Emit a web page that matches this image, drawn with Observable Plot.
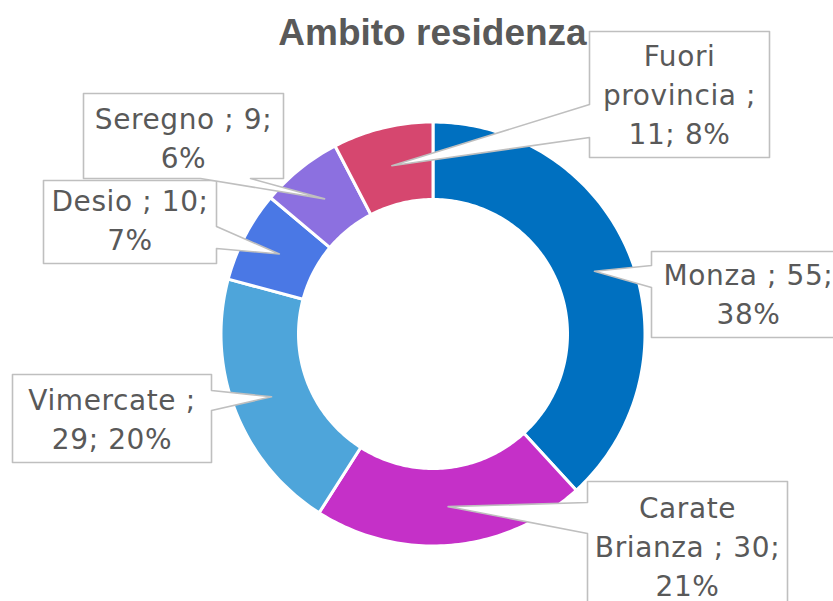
<!DOCTYPE html>
<html>
<head>
<meta charset="utf-8">
<script src="https://cdn.jsdelivr.net/npm/d3@7"></script>
<script src="https://cdn.jsdelivr.net/npm/@observablehq/plot@0.6"></script>
<style>
  html, body { margin: 0; padding: 0; background: #fff; }
  #chart { width: 833px; height: 601px; overflow: hidden; }
</style>
</head>
<body>
<div id="chart"></div>
<script>
// ---- data ----
const titleText = "Ambito residenza";
const categories = ["Monza", "Carate Brianza", "Vimercate", "Desio", "Seregno", "Fuori provincia"];
const values = [55, 30, 29, 10, 9, 11];
const colors = ["#0070C0", "#C530C8", "#4EA5DA", "#4A78E5", "#8C70E0", "#D6476F"];
// token index after which the label text wraps (layout of each label)
const labelBreaks = [[2], [0, 3], [1], [2], [2], [0, 2]];

// ---- layout ----
const W = 833, H = 601;
const cx = 432.5, cy = 333.5, rOuter = 212, rInner = 134.5;
const rTip = (rOuter + rInner) / 2;
// label boxes: [x0, y0, x1, y1], pointer edge, pointer base (two coords along that edge), text centre y
const boxes = [
  {b: [651, 251, 845, 337], edge: "left",   base: [265, 287], ty: 304},
  {b: [587, 481, 787, 640], edge: "left",   base: [502, 533], ty: 556},
  {b: [12, 374, 211, 462],  edge: "right",  base: [390, 410], ty: 429},
  {b: [43, 180, 216, 263],  edge: "right",  base: [226, 248], ty: 230},
  {b: [83, 93, 283, 178],   edge: "bottom", base: [200, 250], ty: 148},
  {b: [589, 31, 769, 157],  edge: "left",   base: [104, 137], ty: 104}
];
const fontSize = 28, lineH = 39;

// ---- derived ----
const total = d3.sum(values);
let acc = 0;
const slices = categories.map((name, i) => {
  const a0 = acc / total * 2 * Math.PI;
  acc += values[i];
  const a1 = acc / total * 2 * Math.PI;
  return {name, value: values[i], a0, a1, mid: (a0 + a1) / 2, pct: Math.round(values[i] / total * 100)};
});
const pt = (r, a) => [cx + r * Math.sin(a), cy - r * Math.cos(a)];

const slicePts = [];
slices.forEach(s => {
  const n = Math.max(4, Math.ceil((s.a1 - s.a0) / (Math.PI / 180)));
  for (let k = 0; k <= n; k++) {
    const [x, y] = pt(rOuter, s.a0 + (s.a1 - s.a0) * k / n);
    slicePts.push({name: s.name, x, y});
  }
  for (let k = n; k >= 0; k--) {
    const [x, y] = pt(rInner, s.a0 + (s.a1 - s.a0) * k / n);
    slicePts.push({name: s.name, x, y});
  }
});

const calloutPts = [];
const labels = [];
slices.forEach((s, i) => {
  const {b: [x0, y0, x1, y1], edge, base, ty: tyc} = boxes[i];
  const [tx, ty] = pt(rTip, s.mid);
  let poly;
  if (edge === "left") poly = [[x0, y0], [x1, y0], [x1, y1], [x0, y1], [x0, base[1]], [tx, ty], [x0, base[0]]];
  else if (edge === "right") poly = [[x0, y0], [x1, y0], [x1, base[0]], [tx, ty], [x1, base[1]], [x1, y1], [x0, y1]];
  else poly = [[x0, y0], [x1, y0], [x1, y1], [base[1], y1], [tx, ty], [base[0], y1], [x0, y1]];
  poly.forEach(([x, y]) => calloutPts.push({name: s.name, order: i, x, y}));
  const tokens = `${s.name} ; ${s.value}; ${s.pct}%`.split(" ");
  const lines = [];
  let cur = [];
  tokens.forEach((t, k) => { cur.push(t); if (labelBreaks[i].includes(k)) { lines.push(cur.join(" ")); cur = []; } });
  if (cur.length) lines.push(cur.join(" "));
  lines.forEach((l, k) => labels.push({name: s.name, text: l, x: (x0 + x1) / 2, y: tyc + (k - (lines.length - 1) / 2) * lineH}));
});

const chart = Plot.plot({
  width: W, height: H,
  margin: 0,
  x: {domain: [0, W], range: [0, W], axis: null},
  y: {domain: [0, H], range: [0, H], axis: null},
  color: {domain: categories, range: colors},
  style: {background: "white"},
  marks: [
    Plot.line(slicePts, {x: "x", y: "y", z: "name", fill: "name", stroke: "white", strokeWidth: 3, curve: "linear-closed"}),
    ...slices.map((s, i) => Plot.line(calloutPts.filter(d => d.order === i), {x: "x", y: "y", fill: "white", stroke: "#BFBFBF", strokeWidth: 1.6, curve: "linear-closed"})),
    Plot.text(labels, {x: "x", y: "y", text: "text", fill: "#595959", fontSize, fontFamily: "DejaVu Sans", fontWeight: 400, textAnchor: "middle", lineAnchor: "bottom"}),
    Plot.text([titleText], {x: () => 432, y: () => 44, text: d => d, fill: "#595959", fontSize: 37, fontWeight: "bold", fontFamily: "Liberation Sans, Arial, sans-serif", textAnchor: "middle", lineAnchor: "bottom"})
  ]
});
// slightly wider tracking for the label font
d3.select(chart).selectAll('g[aria-label="text"]').filter((d, i) => i === 0).selectAll("text").style("letter-spacing", "0.6px");
document.getElementById("chart").appendChild(chart);
</script>
</body>
</html>
